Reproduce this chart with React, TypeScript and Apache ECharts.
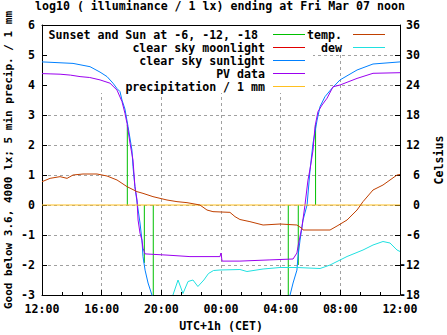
import React, { useEffect, useRef } from "react";
import * as echarts from "echarts";

// ---- data (x in hours since 12:00 of the previous day) ----
const xTickLabels = ["12:00", "16:00", "20:00", "00:00", "04:00", "08:00", "12:00"];

const sunEventHours = [5.72, 6.86, 7.46, 16.51, 17.18, 18.34];
const sunEventValues = [2.67, -1.93, -3, -3, -2.0, 2.67];

const moonHours: number[] = [];
const moonValues: number[] = [];

const sunlightHours = [
  0, 2.08, 3.22, 3.89, 4.36, 4.76, 5.03, 5.23, 5.36, 5.56, 5.77, 6.03, 6.1, 6.23, 6.37, 6.57, 6.7,
  6.77, 6.91, 7.11, 7.37, 7.5, 12, 16.55, 16.63, 16.83, 17.09, 17.16, 17.3, 17.5, 17.77, 17.97,
  18.17, 18.44, 18.64, 18.97, 19.44, 19.98, 21.12, 22.19, 24,
];
const sunlightValues = [
  4.77, 4.72, 4.61, 4.43, 4.28, 4.06, 3.88, 3.78, 3.5, 3.2, 2.61, 1.83, 1.28, 0.61, 0.1, -0.6, -1.17,
  -1.72, -2.17, -2.6, -3.0, -3.2, null, -3.2, -3.0, -2.6, -2.17, -1.72, -1.17, -0.5, 0, 1.17, 2.06,
  2.83, 3.28, 3.61, 3.89, 4.17, 4.5, 4.7, 4.77,
];

const pvHours = [
  0, 0.6, 1.21, 1.9, 2.55, 3.2, 3.89, 4.56, 5.03, 5.36, 5.56, 5.7, 5.9, 6.1, 6.23, 6.37, 6.44, 6.57,
  6.7, 6.77, 6.91, 8.38, 9.92, 11.93, 12.0, 12.07, 13.27, 15.28, 16.83, 17.09, 17.16, 17.43, 17.63,
  17.83, 17.97, 18.17, 18.3, 18.5, 18.77, 19.11, 19.51, 19.98, 21.12, 22.19, 24,
];
const pvValues = [
  4.38, 4.37, 4.36, 4.33, 4.28, 4.25, 4.17, 4.06, 3.83, 3.45, 3.06, 2.72, 2.06, 1.5, 0.61, 0.17, -0.5,
  -0.94, -1.17, -1.44, -1.63, -1.67, -1.72, -1.72, -1.6, -1.87, -1.87, -1.83, -1.8, -1.6, -1.39,
  -0.72, 0, 0.83, 1.2, 1.83, 2.61, 3.11, 3.33, 3.56, 3.94, 4.0, 4.22, 4.39, 4.41,
];

const precipHours = [0, 24];
const precipValues = [0, 0];

const tempHours = [
  0, 0.54, 1.21, 1.68, 2.08, 2.75, 3.69, 4.36, 5.03, 5.7, 6.37, 6.77, 7.44, 8.38, 9.05, 9.72, 10.59,
  11.06, 11.46, 12.6, 12.94, 13.27, 13.94, 14.82, 15.96, 17.09, 17.43, 17.5, 19.31, 19.78, 20.45,
  21.12, 21.52, 22.19, 22.86, 23.33, 23.8, 24,
];
const tempValues = [
  4.66, 5.33, 5.67, 5.33, 6.0, 6.2, 6.2, 5.8, 5.0, 3.67, 2.67, 2.33, 1.67, 1.0, 0.67, 0.47, 0, -1,
  -1.33, -1.47, -2.33, -2.9, -3.33, -4, -3.8, -4, -4.67, -5, -5, -4.2, -3, -1, 0.67, 3, 4, 5, 6, 6.1,
];

const dewHours = [
  8.78, 9.12, 9.45, 9.79, 10.12, 10.45, 10.85, 11.16, 11.5, 11.93, 13.27, 13.74, 14.82, 15.96, 17.09,
  18.64, 19.31, 20.45, 21.52, 22.19, 22.86, 23.33, 23.8, 24,
];
const dewValues = [
  -18, -15, -17.7, -15.3, -15, -16.3, -15, -13.7, -13.1, -13, -12.9, -13.3, -12.8, -12.5, -12.5,
  -12.7, -12, -10.3, -9, -8, -7.3, -7.6, -9, -9.3,
];

// ---- styling ----
const FONT = "'DejaVu Sans Mono', 'Liberation Mono', monospace";
const FS = 11.6;
const txt = { fontFamily: FONT, fontSize: FS, fontWeight: "bold" as const, color: "#000" };

const C_GREEN = "#00c000";
const C_RED = "#e00000";
const C_BLUE = "#0080ff";
const C_PURPLE = "#9b00f0";
const C_ORANGE = "#ffc020";
const C_TEMP = "#c04000";
const C_DEW = "#20e0e0";

function zip(h: number[], v: (number | null)[]) {
  return h.map((x, i) => [x, v[i] === null ? "-" : v[i]]);
}

function impulses(h: number[], v: number[]) {
  const out: any[] = [];
  h.forEach((x, i) => {
    out.push([x, 0]);
    out.push([x, v[i]]);
    out.push([x, "-"]);
  });
  return out;
}

export default function App() {
  const ref = useRef<HTMLDivElement>(null);
  useEffect(() => {
    if (!ref.current) return;
    const chart = echarts.init(ref.current, undefined, { renderer: "svg" });
    const axisBlack = { color: "#000", width: 1 };
    const lineSeries = (name: string, data: any[], color: string, yAxisIndex = 0) => ({
      name,
      type: "line",
      data,
      xAxisIndex: 0,
      yAxisIndex,
      showSymbol: false,
      symbol: "none",
      connectNulls: false,
      clip: true,
      lineStyle: { color, width: 1 },
      itemStyle: { color },
      emphasis: { disabled: true },
    });

    const legendRows1 = [
      { t: "Sunset and Sun at -6, -12, -18", c: C_GREEN, x: 258 },
      { t: "clear sky moonlight", c: C_RED, x: 265 },
      { t: "clear sky sunlight", c: C_BLUE, x: 265 },
      { t: "PV data", c: C_PURPLE, x: 265 },
      { t: "precipitation / 1 mm", c: C_ORANGE, x: 265 },
    ];
    const legendRows2 = [
      { t: "temp.", c: C_TEMP },
      { t: "dew", c: C_DEW },
    ];
    const rowY = (i: number) => 34.5 + 13 * i;
    const graphics: any[] = [
      { type: "rect", z: 1, silent: true, shape: { x: 48, y: 26, width: 265, height: 67 }, style: { fill: "#fff" } },
      { type: "rect", z: 1, silent: true, shape: { x: 313, y: 26, width: 79, height: 27 }, style: { fill: "#fff" } },
      {
        type: "text",
        z: 100,
        x: 8.5,
        y: 160,
        rotation: Math.PI / 2,
        style: {
          text: "Good below 3.6, 4000 lx; 5 min precip. / 1 mm",
          fill: "#000",
          font: `bold 11px ${FONT}`,
          align: "center",
          verticalAlign: "middle",
        },
      },
    ];
    legendRows1.forEach((r, i) => {
      graphics.push({
        type: "text",
        z: 100,
        x: r.x,
        y: rowY(i),
        style: { text: r.t, fill: "#000", font: `bold ${FS}px ${FONT}`, align: "right", verticalAlign: "middle" },
      });
      graphics.push({
        type: "line",
        z: 100,
        shape: { x1: 273, y1: rowY(i), x2: 305, y2: rowY(i) },
        style: { stroke: r.c, lineWidth: 1 },
      });
    });
    legendRows2.forEach((r, i) => {
      graphics.push({
        type: "text",
        z: 100,
        x: 342,
        y: rowY(i),
        style: { text: r.t, fill: "#000", font: `bold ${FS}px ${FONT}`, align: "right", verticalAlign: "middle" },
      });
      graphics.push({
        type: "line",
        z: 100,
        shape: { x1: 353, y1: rowY(i), x2: 385, y2: rowY(i) },
        style: { stroke: r.c, lineWidth: 1 },
      });
    });

    const option: any = {
      animation: false,
      backgroundColor: "#fff",
      title: {
        text: "log10 ( illuminance / 1 lx) ending at Fri Mar 07 noon",
        left: 35,
        top: 0,
        padding: 0,
        textStyle: { ...txt },
      },
      grid: { left: 42, top: 25, right: 47, bottom: 40, containLabel: false, outerBoundsMode: "none" },
      xAxis: [
        {
          type: "value",
          min: 0,
          max: 24,
          interval: 4,
          position: "bottom",
          name: "UTC+1h (CET)",
          nameLocation: "middle",
          nameGap: 25,
          nameTextStyle: { ...txt },
          axisLine: { show: true, onZero: false, lineStyle: axisBlack },
          axisTick: { show: true, inside: true, length: 5, lineStyle: axisBlack },
          minorTick: { show: true, splitNumber: 3, length: 3, lineStyle: axisBlack },
          axisLabel: { ...txt, margin: 8, formatter: (v: number) => xTickLabels[Math.round(v / 4)] },
          splitLine: { show: true, lineStyle: { color: "#a0a0a0", type: [3, 3], width: 1 } },
        },
        {
          type: "value",
          min: 0,
          max: 24,
          interval: 4,
          position: "top",
          axisLine: { show: true, onZero: false, lineStyle: axisBlack },
          axisTick: { show: true, inside: true, length: 5, lineStyle: axisBlack },
          minorTick: { show: true, splitNumber: 3, length: 3, lineStyle: axisBlack },
          axisLabel: { show: false },
          splitLine: { show: false },
        },
      ],
      yAxis: [
        {
          type: "value",
          min: -3,
          max: 6,
          interval: 1,
          position: "left",
          axisLine: { show: true, onZero: false, lineStyle: axisBlack },
          axisTick: { show: true, inside: true, length: 5, lineStyle: axisBlack },
          axisLabel: { ...txt, margin: 7 },
          splitLine: { show: true, lineStyle: { color: "#a0a0a0", type: [3, 3], width: 1 } },
        },
        {
          type: "value",
          min: -18,
          max: 36,
          interval: 6,
          position: "right",
          name: "Celsius",
          nameLocation: "middle",
          nameRotate: 90,
          nameGap: 33,
          nameTextStyle: { ...txt },
          axisLine: { show: true, onZero: false, lineStyle: axisBlack },
          axisTick: { show: true, inside: true, length: 5, lineStyle: axisBlack },
          axisLabel: { ...txt, margin: 20, align: "right" },
          splitLine: { show: false },
        },
      ],
      graphic: { elements: graphics },
      series: [
        lineSeries("Sunset and Sun at -6, -12, -18", impulses(sunEventHours, sunEventValues), C_GREEN),
        lineSeries("clear sky moonlight", zip(moonHours, moonValues), C_RED),
        lineSeries("clear sky sunlight", zip(sunlightHours, sunlightValues), C_BLUE),
        lineSeries("PV data", zip(pvHours, pvValues), C_PURPLE),
        lineSeries("precipitation / 1 mm", zip(precipHours, precipValues), C_ORANGE),
        lineSeries("temp.", zip(tempHours, tempValues), C_TEMP, 1),
        lineSeries("dew", zip(dewHours, dewValues), C_DEW, 1),
      ],
    };
    chart.setOption(option);
    return () => chart.dispose();
  }, []);
  return (
    <div
      ref={ref}
      style={{ position: "fixed", left: 0, top: 0, width: 447, height: 335, background: "#fff" }}
    />
  );
}
